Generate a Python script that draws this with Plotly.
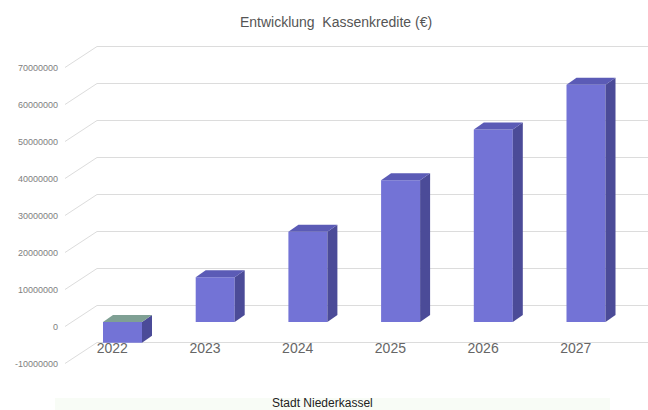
import plotly.graph_objects as go

# ---- data -------------------------------------------------------------
years = ["2022", "2023", "2024", "2025", "2026", "2027"]
kassenkredite = [-5_600_000, 12_100_000, 24_400_000, 38_300_000, 52_000_000, 64_100_000]
y_ticks = [-10_000_000, 0, 10_000_000, 20_000_000, 30_000_000,
           40_000_000, 50_000_000, 60_000_000, 70_000_000]

title_text = "Entwicklung\u00a0 Kassenkredite (€)"
footer_text = "Stadt Niederkassel"

# ---- page geometry (pixels) ------------------------------------------
W, H = 648, 410
ML, MR, MT, MB = 65, 0, 30, 30
PX_PER_CAT = 92.7            # horizontal distance between categories
PX_PER_VAL = 37.0 / 1e7      # vertical pixels per euro on the front plane
ZERO_PX = 326.5              # pixel row of 0 on the front plane
FIRST_CAT_PX = 122.5         # pixel column of the first bar's centre

# oblique projection offsets (pixels)
WALL_DX, WALL_DY = 32, 21    # front edge -> back wall
BAR_FRONT_DY = 4.5           # bars sit a little behind the front edge
BAR_DX, BAR_DY = 10, 7       # bar depth
BAR_W_PX = 39

def dx(px):
    return px / PX_PER_CAT

def dy(px):
    return px / PX_PER_VAL

plot_w = W - ML - MR
plot_h = H - MT - MB
x_min = (ML - FIRST_CAT_PX) / PX_PER_CAT
x_max = x_min + plot_w / PX_PER_CAT
y_max = (ZERO_PX - MT) / PX_PER_VAL
y_min = -(H - MB - ZERO_PX) / PX_PER_VAL

idx = list(range(len(years)))
front_off = dy(BAR_FRONT_DY)
half_w = dx(BAR_W_PX) / 2
ddx, ddy = dx(BAR_DX), dy(BAR_DY)

FRONT = "#7373d6"
SIDE = "#4b4b98"
TOP = "#5b5bb6"
TOP_NEG = "#7fa094"
GRID = "#dcdcdc"

fig = go.Figure()

# back-wall gridlines with their diagonal run across the floor
shapes = []
for v in y_ticks:
    x0, y0 = x_min, v
    x1, y1 = x_min + dx(WALL_DX), v + dy(WALL_DY)
    shapes.append(dict(
        type="path", xref="x", yref="y", layer="below",
        path=f"M {x0},{y0} L {x1},{y1} L {x_max},{y1}",
        line=dict(color=GRID, width=1),
    ))

# faint strip behind the footer
shapes.append(dict(type="rect", xref="paper", yref="paper",
                   x0=(55 - ML) / plot_w, x1=(610 - ML) / plot_w,
                   y0=-MB / plot_h, y1=-(398 - (H - MB)) / plot_h,
                   fillcolor="#f8fcf6", line=dict(width=0), layer="below"))

# front faces of the columns
fig.add_trace(go.Bar(
    x=idx, y=kassenkredite, base=[front_off] * len(idx),
    width=2 * half_w, marker=dict(color=FRONT, line=dict(width=0)),
    hoverinfo="skip", showlegend=False,
))

# side and top faces
for i, v in zip(idx, kassenkredite):
    lo = front_off + min(v, 0)
    hi = front_off + max(v, 0)
    xr = i + half_w
    xl = i - half_w
    fig.add_trace(go.Scatter(
        x=[xr, xr + ddx, xr + ddx, xr, xr],
        y=[lo, lo + ddy, hi + ddy, hi, lo],
        fill="toself", fillcolor=SIDE, mode="lines",
        line=dict(width=0, color=SIDE), hoverinfo="skip", showlegend=False,
    ))
    fig.add_trace(go.Scatter(
        x=[xl, xr, xr + ddx, xl + ddx, xl],
        y=[hi, hi, hi + ddy, hi + ddy, hi],
        fill="toself", fillcolor=TOP if v >= 0 else TOP_NEG, mode="lines",
        line=dict(width=0, color=TOP), hoverinfo="skip", showlegend=False,
    ))

fig.update_layout(
    width=W, height=H,
    margin=dict(l=ML, r=MR, t=MT, b=MB),
    paper_bgcolor="white", plot_bgcolor="white",
    font=dict(family="Liberation Sans, Arial, sans-serif"),
    shapes=shapes,
    title=dict(text=title_text, x=336 / W, xref="container", xanchor="center",
               y=1 - 22 / H, yref="container", yanchor="middle",
               font=dict(size=14, color="#555555")),
    xaxis=dict(range=[x_min, x_max], showgrid=False, zeroline=False,
               showline=False, ticks="",
               tickvals=[i - 0.11 for i in idx], ticktext=years,
               tickfont=dict(size=14, color="#666666"),
               anchor="free", position=(H - MB - 338) / plot_h),
    yaxis=dict(range=[y_min, y_max], showgrid=False, zeroline=False,
               showline=False, ticks="", tickvals=y_ticks,
               ticktext=[str(t) for t in y_ticks],
               tickfont=dict(size=9, color="#808080"),
               ticklabelstandoff=6),
    annotations=[dict(text=footer_text, xref="paper", yref="paper",
                      x=(322 - ML) / plot_w, y=-(403 - (H - MB)) / plot_h,
                      xanchor="center", yanchor="middle", showarrow=False,
                      font=dict(size=12, color="#222222"))],
)

fig.write_html("out.html")
